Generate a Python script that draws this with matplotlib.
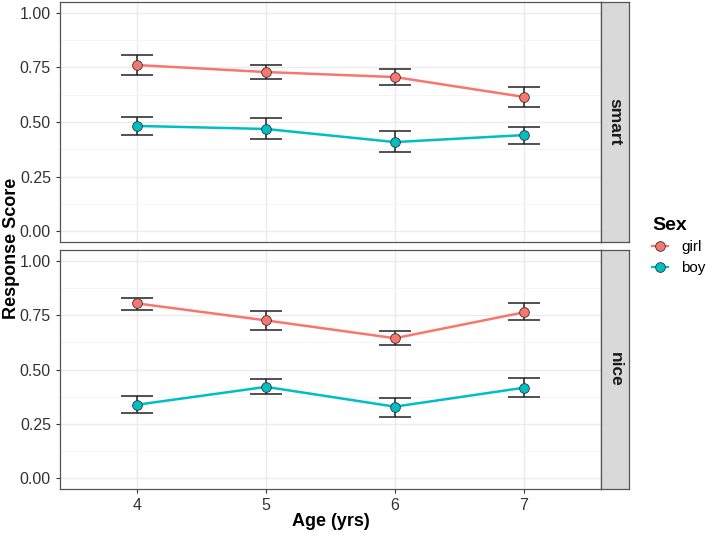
import matplotlib.pyplot as plt
from matplotlib.lines import Line2D
import numpy as np

plt.rcParams['font.family'] = ['Liberation Sans', 'DejaVu Sans']

ages = [4, 5, 6, 7]
panels = ["smart", "nice"]
sexes = ["girl", "boy"]
colors = {"girl": "#F8766D", "boy": "#00BFC4"}

# means and error bounds (lower, upper) per panel and sex
means = {
    "smart": {"girl": [0.761, 0.729, 0.706, 0.615], "boy": [0.482, 0.468, 0.408, 0.440]},
    "nice": {"girl": [0.804, 0.726, 0.644, 0.763], "boy": [0.338, 0.420, 0.329, 0.416]},
}
lower = {
    "smart": {"girl": [0.716, 0.697, 0.670, 0.570], "boy": [0.440, 0.422, 0.362, 0.400]},
    "nice": {"girl": [0.776, 0.680, 0.612, 0.726], "boy": [0.301, 0.388, 0.283, 0.374]},
}
upper = {
    "smart": {"girl": [0.807, 0.762, 0.743, 0.661], "boy": [0.523, 0.518, 0.459, 0.477]},
    "nice": {"girl": [0.831, 0.767, 0.676, 0.804], "boy": [0.379, 0.457, 0.370, 0.461]},
}

fig = plt.figure(figsize=(7.08, 5.36), dpi=100)
W, H = 708, 536
boxes = [(2, 242), (250, 489)]
left, right, strip_r = 60, 601, 629

for name, (top, bot) in zip(panels, boxes):
    ax = fig.add_axes([left / W, 1 - bot / H, (right - left) / W, (bot - top) / H])
    ax.set_xlim(3.4, 7.6)
    ax.set_ylim(-0.05, 1.05)
    ax.set_yticks([0, 0.25, 0.5, 0.75, 1.0])
    ax.set_yticks([0.125, 0.375, 0.625, 0.875], minor=True)
    ax.set_xticks(ages)
    ax.set_yticklabels(["0.00", "0.25", "0.50", "0.75", "1.00"])
    ax.grid(which="major", color="#EBEBEB", lw=1.0)
    ax.grid(which="minor", axis="y", color="#F4F4F4", lw=0.6)
    ax.set_axisbelow(True)
    for s in ax.spines.values():
        s.set_color("#555555")
        s.set_linewidth(0.9)
    ax.tick_params(which="major", length=3, color="#333333", labelsize=11.5, labelcolor="#333333")
    ax.tick_params(which="minor", length=0)
    for sex in sexes:
        m = np.array(means[name][sex])
        lo = m - np.array(lower[name][sex])
        hi = np.array(upper[name][sex]) - m
        ax.errorbar(ages, m, yerr=[lo, hi], fmt="none", ecolor="#222222",
                    elinewidth=1.1, capsize=11.5, capthick=1.1, zorder=2)
        ax.plot(ages, m, color=colors[sex], lw=1.8, zorder=3)
        ax.plot(ages, m, "o", ms=7, mfc=colors[sex], mec="#333333", mew=0.6, zorder=4)
    if name == "smart":
        ax.tick_params(labelbottom=False, length=0, axis="x")
    # strip
    sax = fig.add_axes([right / W, 1 - bot / H, (strip_r - right) / W, (bot - top) / H])
    sax.set_facecolor("#D9D9D9")
    sax.set_xticks([])
    sax.set_yticks([])
    for s in sax.spines.values():
        s.set_color("#555555")
        s.set_linewidth(0.9)
    sax.text(0.5, 0.5, name, rotation=-90, ha="center", va="center",
             fontsize=12.5, fontweight="bold", color="#1A1A1A", transform=sax.transAxes)

fig.text(12 / W, 1 - 248 / H, "Response Score", rotation=90, ha="center", va="center",
         fontsize=13, fontweight="bold")
fig.text((left + right) / 2 / W, 1 - 522 / H, "Age (yrs)", ha="center", va="center",
         fontsize=13, fontweight="bold")

handles = [Line2D([0], [0], color=colors[s], lw=1.6, marker="o", ms=7,
                  mfc=colors[s], mec="#333333", mew=0.6) for s in sexes]
leg = fig.legend(handles, sexes, title="Sex", loc="center left",
                 bbox_to_anchor=(646 / W, 1 - 246 / H), frameon=False, borderaxespad=0,
                 fontsize=11, handlelength=1.05, handletextpad=0.85, labelspacing=0.45,
                 title_fontsize=14, alignment="left")
leg.get_title().set_fontweight("bold")

fig.savefig("out.png", dpi=100)
